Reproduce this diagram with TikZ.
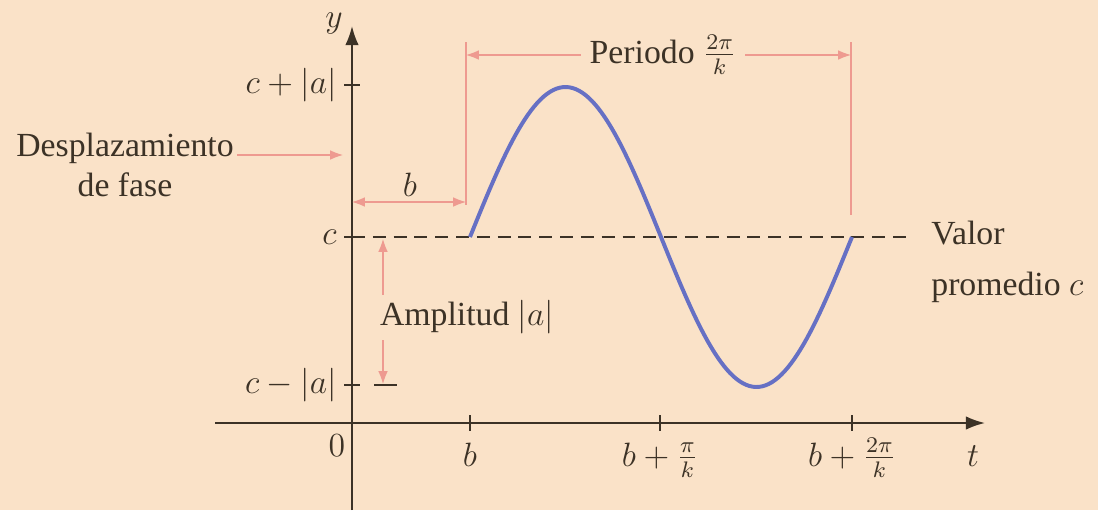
\documentclass[tikz,border=0pt]{standalone}
\usepackage{fontspec}
\setmainfont{Liberation Serif}
\usetikzlibrary{arrows.meta,positioning}
\definecolor{WPeach}{HTML}{FAE2C8}
\definecolor{WBlue}{HTML}{6670C4}
\definecolor{WPink}{HTML}{EE9A90}
\definecolor{WInk}{HTML}{3C3226}

\begin{document}
\begin{tikzpicture}[
  x=0.0125cm,y=-0.0125cm,
  lbl/.style={font=\fontsize{12}{14}\selectfont,text=WInk,inner sep=1pt},
  ax/.style={-{Latex[length=2.4mm,width=1.7mm]},line width=0.7pt,color=WInk},
  dim/.style={{Latex[length=1.6mm,width=1.2mm]}-{Latex[length=1.6mm,width=1.2mm]},line width=0.4pt,color=WPink},
  half/.style={-{Latex[length=1.6mm,width=1.2mm]},line width=0.4pt,color=WPink},
  guide/.style={line width=0.4pt,color=WPink},
  tk/.style={line width=0.6pt,color=WInk},
  mid/.style={line width=0.7pt,color=WInk,dash pattern=on 4.6pt off 2.8pt},
  wave/.style={line width=1.4pt,color=WBlue}
]
  \fill[WPeach] (0,0) rectangle (1098,510);
  \useasboundingbox (0,0) rectangle (1098,510);

  % axes
  \coordinate (tstart) at (215,423);
  \coordinate (tend) at (985,423);
  \coordinate (ybot) at (352,510);
  \coordinate (ytop) at (352,26);
  \draw[ax] (tstart) -- (tend);
  \draw[ax] (ybot) -- (ytop);
  \node[lbl] (ylab) at (334,24) {$y$};
  \node[lbl,anchor=base] (tlab) at (973,466) {$t$};
  \node[lbl,anchor=base] (zero) at (337,456) {$0$};

  % ticks on t
  \foreach \x/\l [count=\i] in {470/b,660/{b+\frac{\pi}{k}},852/{b+\frac{2\pi}{k}}}
    {\draw[tk] (\x,415) -- (\x,431);
     \node[lbl,anchor=base] (tx\i) at (\x,466) {$\l$};}

  % ticks on y
  \foreach \y/\l [count=\i] in {85/{c+|a|},237/c,385/{c-|a|}}
    {\draw[tk] (344,\y) -- (360,\y);
     \node[lbl,anchor=east] (cy\i) at (340,\y) {$\l$};}

  % average value
  \coordinate (cl) at (352,237);
  \coordinate (cr) at (913,237);
  \draw[mid] (cl) -- (cr);
  \draw[tk,line width=0.7pt] (374,385) -- (397,385);
  \node[lbl,anchor=west,align=left] (avg) at (928,262) {Valor\\[4pt]promedio $c$};

  % the wave
  \draw[wave] plot[domain=0:360,samples=120] ({470+1.06111*\x},{237-150*sin(\x)});

  % period
  \coordinate (pl) at (466,55);
  \coordinate (pr) at (851,55);
  \draw[guide] (466,42) -- (466,205);
  \draw[guide] (851,42) -- (851,215);
  \node[lbl,inner sep=3pt] (per) at (663,55) {Periodo $\frac{2\pi}{k}$};
  \draw[half] (per.west) -- (pl);
  \draw[half] (per.east) -- (pr);

  % phase shift
  \coordinate (bl) at (352,202);
  \coordinate (br) at (466,202);
  \draw[dim] (bl) -- (br);
  \node[lbl] (blab) at (410,185) {$b$};
  \node[lbl] (dz) at (125,148) {Desplazamiento};
  \node[lbl,below=1pt of dz] (df) {de fase};
  \coordinate (dzend) at (343,155);
  \draw[half] (dz.east) ++(0,7) -- (dzend);

  % amplitude
  \coordinate (at) at (383,239);
  \coordinate (ab) at (383,384);
  \draw[dim] (at) -- (ab);
  \node[lbl,fill=WPeach,inner sep=2pt] (amp) at (467,317) {Amplitud $|a|$};
\end{tikzpicture}
\end{document}
